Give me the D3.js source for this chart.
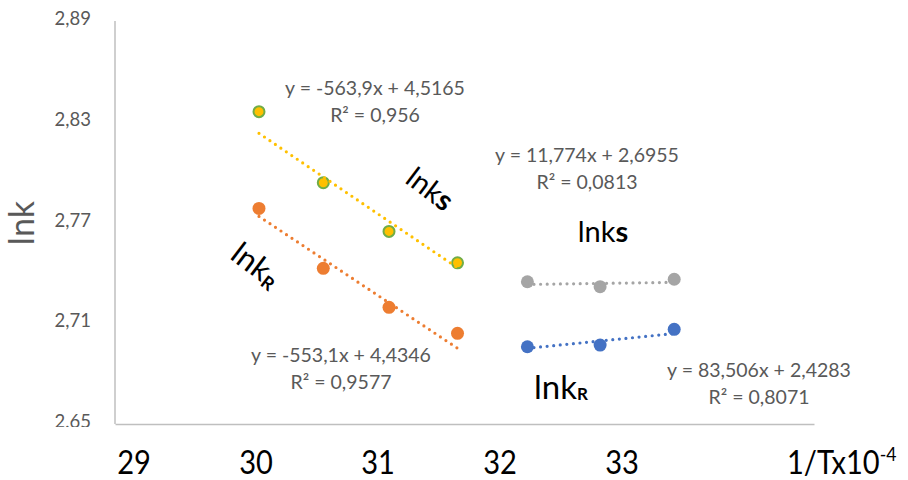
<!DOCTYPE html>
<html>
<head>
<meta charset="utf-8">
<script src="https://cdn.jsdelivr.net/npm/d3@7"></script>
<style>
  body { margin: 0; background: #fff; }
  svg { display: block; }
</style>
</head>
<body>
<svg id="chart" width="908" height="480"></svg>
<script>
// 1/T x10^4 (K^-1) for the high and low temperature ranges
const xHigh = [30.03, 30.49, 30.96, 31.45];
const xLow = [31.95, 32.47, 33.00];

// ln k values for each series
const lnkSHigh = [2.836, 2.7937, 2.7647, 2.746];
const lnkRHigh = [2.7784, 2.7427, 2.7195, 2.704];
const lnkSLow = [2.7347, 2.7318, 2.7362];
const lnkRLow = [2.696, 2.697, 2.7064];

// linear trendlines, y = slope * (1/T) + intercept
const trendSlopes = [-563.9, -553.1, 11.774, 83.506];
const trendIntercepts = [4.5165, 4.4346, 2.6955, 2.4283];
const trendR2 = [0.956, 0.9577, 0.0813, 0.8071];

// axis ticks
const yTickValues = [2.65, 2.71, 2.77, 2.83, 2.89];
const xTickLabels = ["29", "30", "31", "32", "33"];

const svg = d3.select("#chart");
const plot = { left: 115, right: 814, top: 21, bottom: 424 };

const x = d3.scaleLinear().domain([29, 34]).range([plot.left, plot.right]);
const y = d3.scaleLinear().domain([2.65, 2.89]).range([plot.bottom, plot.top]);

const comma = v => String(v).replace(".", ",");
const labelFont = "Lato, 'Open Sans', sans-serif";
const grey = "#595959";
const narrow = 0.88; // condensed look for the large axis texts

// ---- axes ----
svg.append("defs").append("clipPath").attr("id", "yclip")
  .append("rect").attr("x", 0).attr("y", 0).attr("width", plot.left).attr("height", plot.bottom + 3);

const yAxisWrap = svg.append("g").attr("clip-path", "url(#yclip)");
const yAxis = yAxisWrap.append("g")
  .attr("transform", `translate(${plot.left},0)`)
  .call(d3.axisLeft(y).tickValues(yTickValues).tickSize(0).tickPadding(24)
    .tickFormat(d => d3.format(".2f")(d).replace(".", ",")));
yAxis.select(".domain").remove();
yAxis.selectAll("text")
  .attr("font-family", labelFont).attr("font-size", 18.5).attr("fill", grey)
  .attr("dy", "0.2em");

const axisColor = "#bfbfbf";
svg.append("line")
  .attr("x1", plot.left).attr("x2", plot.left)
  .attr("y1", plot.top).attr("y2", plot.bottom)
  .attr("stroke", axisColor).attr("stroke-width", 1.5);

const xAxis = svg.append("g")
  .attr("transform", `translate(0,${plot.bottom})`)
  .call(d3.axisBottom(x).tickValues([]).tickSizeOuter(0));
xAxis.select(".domain").attr("stroke", axisColor).attr("stroke-width", 1.5);

// x tick labels
const xLabelScale = d3.scalePoint().domain(xTickLabels).range([134, 622]);
svg.append("g").selectAll("text")
  .data(xTickLabels)
  .join("text")
  .attr("transform", d => `translate(${xLabelScale(d)},474) scale(${narrow},1)`)
  .attr("text-anchor", "middle")
  .attr("font-family", labelFont)
  .attr("font-size", 33)
  .attr("fill", "#000")
  .text(d => d);

// x axis title
const xTitle = svg.append("text")
  .attr("transform", `translate(787,474) scale(${narrow},1)`)
  .attr("font-family", labelFont).attr("font-size", 33).attr("fill", "#000");
xTitle.append("tspan").text("1/Tx10");
xTitle.append("tspan").attr("dy", -13).attr("font-size", 20).text("-4");

// y axis title
svg.append("text")
  .attr("transform", "translate(34,223) rotate(-90)")
  .attr("text-anchor", "middle")
  .attr("font-family", labelFont).attr("font-size", 34).attr("fill", grey)
  .text("lnk");

// ---- series ----
const series = [
  { xs: xHigh, ys: lnkSHigh, fill: "#FFC000", stroke: "#70AD47", line: "#FFC000" },
  { xs: xHigh, ys: lnkRHigh, fill: "#ED7D31", stroke: "none", line: "#ED7D31" },
  { xs: xLow, ys: lnkSLow, fill: "#A5A5A5", stroke: "none", line: "#A5A5A5" },
  { xs: xLow, ys: lnkRLow, fill: "#4472C4", stroke: "none", line: "#4472C4" }
];

const marks = svg.append("g");
series.forEach(s => {
  const pts = s.xs.map((xv, i) => [xv, s.ys[i]]);
  marks.append("g").selectAll("circle")
    .data(pts)
    .join("circle")
    .attr("cx", d => x(d[0]))
    .attr("cy", d => y(d[1]))
    .attr("r", s.stroke === "none" ? 6.5 : 5.5)
    .attr("fill", s.fill)
    .attr("stroke", s.stroke)
    .attr("stroke-width", s.stroke === "none" ? 0 : 2);
});

// dotted trendlines on top of the markers
const trends = svg.append("g");
series.forEach((s, i) => {
  const x0 = d3.min(s.xs), x1 = d3.max(s.xs);
  const f = xv => trendSlopes[i] * xv * 1e-4 + trendIntercepts[i];
  trends.append("line")
    .attr("x1", x(x0)).attr("y1", y(f(x0)))
    .attr("x2", x(x1)).attr("y2", y(f(x1)))
    .attr("stroke", s.line)
    .attr("stroke-width", 3.2)
    .attr("stroke-linecap", "round")
    .attr("stroke-dasharray", "0 6.6");
});

// ---- trendline equations ----
const eqPos = [[375, 95], [341, 362], [587, 162], [759, 377]];
const eq = svg.append("g")
  .attr("font-family", labelFont).attr("font-size", 19.5).attr("fill", grey)
  .attr("text-anchor", "middle");
trendSlopes.forEach((m, i) => {
  const b = trendIntercepts[i];
  const t = eq.append("text").attr("x", eqPos[i][0]).attr("y", eqPos[i][1]);
  t.append("tspan").attr("x", eqPos[i][0]).text(`y = ${comma(m)}x + ${comma(b)}`);
  t.append("tspan").attr("x", eqPos[i][0]).attr("dy", 26.5).text(`R\u00B2 = ${comma(trendR2[i])}`);
});

// ---- series names ----
function seriesName(cx, cy, angle, size, sub, subSize, subDy) {
  const t = svg.append("text")
    .attr("transform", `translate(${cx},${cy}) rotate(${angle})`)
    .attr("text-anchor", "middle")
    .attr("dy", "0.35em")
    .attr("font-family", labelFont).attr("font-size", size).attr("fill", "#000");
  t.append("tspan").text("lnk");
  t.append("tspan")
    .attr("font-size", subSize)
    .attr("font-weight", 700)
    .attr("dy", subDy)
    .text(sub);
}
seriesName(430, 189, 37, 29, "s", 29, 0);
seriesName(256, 265, 37, 31, "R", 18, 3);
seriesName(603, 232, 0, 29, "s", 29, 0);
seriesName(561, 387, 0, 33, "R", 17, 1);
</script>
</body>
</html>
